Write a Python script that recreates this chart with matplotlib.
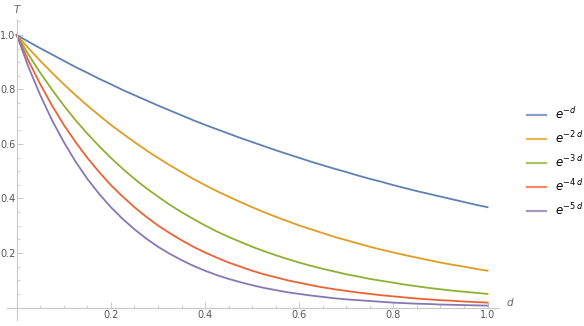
import numpy as np
import matplotlib.pyplot as plt
from matplotlib.ticker import MultipleLocator

d = [0.000, 0.025, 0.050, 0.075, 0.100, 0.125, 0.150, 0.175, 0.200, 0.225,
     0.250, 0.275, 0.300, 0.325, 0.350, 0.375, 0.400, 0.425, 0.450, 0.475,
     0.500, 0.525, 0.550, 0.575, 0.600, 0.625, 0.650, 0.675, 0.700, 0.725,
     0.750, 0.775, 0.800, 0.825, 0.850, 0.875, 0.900, 0.925, 0.950, 0.975, 1.000]

t1 = [1.000, 0.975, 0.951, 0.928, 0.905, 0.882, 0.861, 0.839, 0.819, 0.798,
      0.779, 0.760, 0.741, 0.723, 0.705, 0.687, 0.670, 0.654, 0.638, 0.622,
      0.607, 0.592, 0.577, 0.563, 0.549, 0.535, 0.522, 0.509, 0.497, 0.484,
      0.472, 0.461, 0.449, 0.438, 0.427, 0.417, 0.407, 0.397, 0.387, 0.377, 0.368]
t2 = [1.000, 0.951, 0.905, 0.861, 0.819, 0.779, 0.741, 0.705, 0.670, 0.638,
      0.607, 0.577, 0.549, 0.522, 0.497, 0.472, 0.449, 0.427, 0.407, 0.387,
      0.368, 0.350, 0.333, 0.317, 0.301, 0.287, 0.273, 0.259, 0.247, 0.235,
      0.223, 0.212, 0.202, 0.192, 0.183, 0.174, 0.165, 0.157, 0.150, 0.142, 0.135]
t3 = [1.000, 0.928, 0.861, 0.799, 0.741, 0.687, 0.638, 0.592, 0.549, 0.509,
      0.472, 0.438, 0.407, 0.377, 0.350, 0.325, 0.301, 0.279, 0.259, 0.241,
      0.223, 0.207, 0.192, 0.178, 0.165, 0.153, 0.142, 0.132, 0.122, 0.114,
      0.105, 0.098, 0.091, 0.084, 0.078, 0.072, 0.067, 0.062, 0.058, 0.054, 0.050]
t4 = [1.000, 0.905, 0.819, 0.741, 0.670, 0.607, 0.549, 0.497, 0.449, 0.407,
      0.368, 0.333, 0.301, 0.273, 0.247, 0.223, 0.202, 0.183, 0.165, 0.150,
      0.135, 0.122, 0.111, 0.100, 0.091, 0.082, 0.074, 0.067, 0.061, 0.055,
      0.050, 0.045, 0.041, 0.037, 0.033, 0.030, 0.027, 0.025, 0.022, 0.020, 0.018]
t5 = [1.000, 0.882, 0.779, 0.687, 0.607, 0.535, 0.472, 0.417, 0.368, 0.325,
      0.287, 0.253, 0.223, 0.197, 0.174, 0.153, 0.135, 0.119, 0.105, 0.093,
      0.082, 0.072, 0.064, 0.056, 0.050, 0.044, 0.039, 0.034, 0.030, 0.027,
      0.024, 0.021, 0.018, 0.016, 0.014, 0.013, 0.011, 0.010, 0.009, 0.008, 0.007]

labels = [r'$e^{-d}$', r'$e^{-2\,d}$', r'$e^{-3\,d}$', r'$e^{-4\,d}$', r'$e^{-5\,d}$']
colors = ['#5E81B5', '#E19C24', '#8FB032', '#EB6235', '#8778B3']

fig = plt.figure(figsize=(5.84, 3.26), dpi=100)
ax = fig.add_axes([0.0125, 0.019, 0.8425, 0.92])

for t, lab, c in zip([t1, t2, t3, t4, t5], labels, colors):
    ax.plot(d, t, color=c, lw=1.3, label=lab)

ax.set_xlim(-0.02, 1.025)
ax.set_ylim(-0.045, 1.055)

ax.spines['right'].set_visible(False)
ax.spines['top'].set_visible(False)
ax.spines['left'].set_position(('data', 0))
ax.spines['bottom'].set_position(('data', 0))
for s in ['left', 'bottom']:
    ax.spines[s].set_color('#c8c8c8')
    ax.spines[s].set_linewidth(0.8)

ax.xaxis.set_minor_locator(MultipleLocator(0.05))
ax.yaxis.set_minor_locator(MultipleLocator(0.05))
ax.set_xticks([0.2, 0.4, 0.6, 0.8, 1.0])
ax.set_yticks([0.2, 0.4, 0.6, 0.8, 1.0])
ax.tick_params(which='both', direction='in', color='#c8c8c8', labelcolor='#555555', labelsize=7)
ax.tick_params(which='major', length=4, width=0.7, pad=2)
ax.tick_params(axis='y', which='major', pad=1)
ax.tick_params(which='minor', length=2, width=0.6)

ax.text(0, 1.09, 'T', style='italic', color='#666666', fontsize=7.5, ha='center', va='center')
ax.text(1.04, 0.0, 'd', style='italic', color='#666666', fontsize=7.5, ha='left', va='bottom')

leg = fig.legend(loc='center left', bbox_to_anchor=(0.902, 0.503), frameon=False,
                 borderpad=0, borderaxespad=0,
                 fontsize=8.5, handlelength=1.6, handletextpad=0.8, labelspacing=0.7)
for h in leg.get_lines():
    h.set_alpha(0.75)
    h.set_linewidth(1.6)

fig.savefig('out.png', dpi=100)
